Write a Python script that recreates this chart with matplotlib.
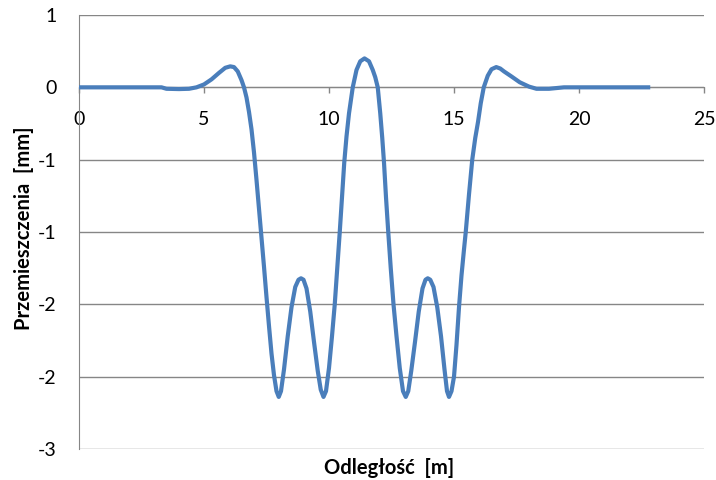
import math

import matplotlib

matplotlib.use("Agg")
import matplotlib.pyplot as plt
from matplotlib.ticker import FuncFormatter

# distance along the section [m] and displacement [mm]
distance_m = [
    0.0, 1.0, 2.0, 3.0, 3.3, 3.5, 4.0, 4.4, 4.7, 5.0, 5.3, 5.6, 5.85, 6.05,
    6.2, 6.35, 6.5, 6.6, 6.7, 6.8, 6.9, 7.0, 7.1, 7.2, 7.3, 7.4, 7.5, 7.6,
    7.7, 7.8, 7.9, 7.99, 8.08, 8.2, 8.35, 8.5, 8.65, 8.78, 8.88, 8.98, 9.1,
    9.25, 9.4, 9.55, 9.67, 9.78, 9.88, 10.0, 10.12, 10.23, 10.33, 10.43,
    10.52, 10.61, 10.7, 10.8, 10.95, 11.1, 11.25, 11.42, 11.6, 11.75, 11.85,
    11.95, 12.05, 12.13, 12.2, 12.28, 12.37, 12.47, 12.58, 12.7, 12.83,
    12.96, 13.07, 13.17, 13.29, 13.44, 13.59, 13.74, 13.86, 13.95, 14.05,
    14.18, 14.33, 14.48, 14.62, 14.72, 14.8, 14.9, 15.0, 15.1, 15.2, 15.3,
    15.4, 15.47, 15.6, 15.73, 15.85, 15.96, 16.07, 16.19, 16.35, 16.5,
    16.69, 16.85, 17.0, 17.3, 17.63, 18.0, 18.3, 18.8, 19.4, 20.0, 21.0,
    22.0, 22.85,
]
displacement_mm = [
    0.0, 0.0, 0.0, 0.0, 0.0, -0.01, -0.012, -0.01, 0.0, 0.02, 0.055, 0.10,
    0.135, 0.145, 0.14, 0.11, 0.05, 0.0, -0.07, -0.17, -0.29, -0.45, -0.64,
    -0.84, -1.04, -1.24, -1.45, -1.65, -1.84, -1.99, -2.10, -2.14, -2.10,
    -1.95, -1.72, -1.52, -1.38, -1.33, -1.32, -1.33, -1.39, -1.55, -1.76,
    -1.96, -2.09, -2.14, -2.10, -1.94, -1.72, -1.50, -1.25, -1.00, -0.76,
    -0.52, -0.34, -0.18, 0.0, 0.12, 0.18, 0.20, 0.18, 0.12, 0.07, 0.0,
    -0.18, -0.35, -0.52, -0.76, -1.00, -1.25, -1.50, -1.72, -1.94, -2.10,
    -2.14, -2.10, -1.96, -1.76, -1.55, -1.39, -1.33, -1.32, -1.33, -1.38,
    -1.52, -1.72, -1.95, -2.10, -2.14, -2.10, -2.0, -1.78, -1.52, -1.30,
    -1.12, -1.0, -0.74, -0.50, -0.35, -0.24, -0.11, 0.0, 0.08, 0.125, 0.14,
    0.13, 0.11, 0.075, 0.035, 0.005, -0.01, -0.01, 0.0, 0.0, 0.0, 0.0, 0.0,
]

x_ticks = [0, 5, 10, 15, 20, 25]
y_ticks = [0.5, 0, -0.5, -1.0, -1.5, -2.0, -2.5]


def excel_round(v, pos=None):
    # the source chart shows the half steps rounded to whole numbers
    r = int(math.floor(abs(v) + 0.5))
    if r == 0:
        return "0"
    return f"-{r}" if v < 0 else f"{r}"


plt.rcParams["font.family"] = ["Lato", "DejaVu Sans"]

fig = plt.figure(figsize=(7.16, 4.8), dpi=100)
ax = fig.add_axes([79 / 716, 31 / 480, 625 / 716, 434 / 480])

ax.plot(distance_m, displacement_mm, color="#4a7ebb", linewidth=3.0,
        solid_joinstyle="round", solid_capstyle="butt", zorder=3)

ax.set_xlim(0, 25)
ax.set_ylim(-2.5, 0.5)
ax.set_xticks(x_ticks)
ax.set_yticks(y_ticks)
ax.yaxis.set_major_formatter(FuncFormatter(excel_round))

ax.grid(axis="y", color="#868686", linewidth=1.0)
ax.set_axisbelow(True)

ax.spines["bottom"].set_position(("data", 0))
ax.spines["bottom"].set_color("#868686")
ax.spines["left"].set_color("#868686")
ax.spines["top"].set_visible(False)
ax.spines["right"].set_visible(False)

ax.tick_params(axis="x", direction="out", length=4, width=1, color="#868686",
               pad=13, labelsize=14)
ax.tick_params(axis="y", length=0, pad=16, labelsize=14)

fig.text(389 / 716, 1 - 468 / 480, "Odległość  [m]", ha="center", va="center",
         fontsize=14.5, fontweight="bold")
fig.text(24 / 716, 1 - 228 / 480, "Przemieszczenia  [mm]", ha="center",
         va="center", rotation=90, fontsize=14.5, fontweight="bold")

fig.savefig("out.png", dpi=100)
